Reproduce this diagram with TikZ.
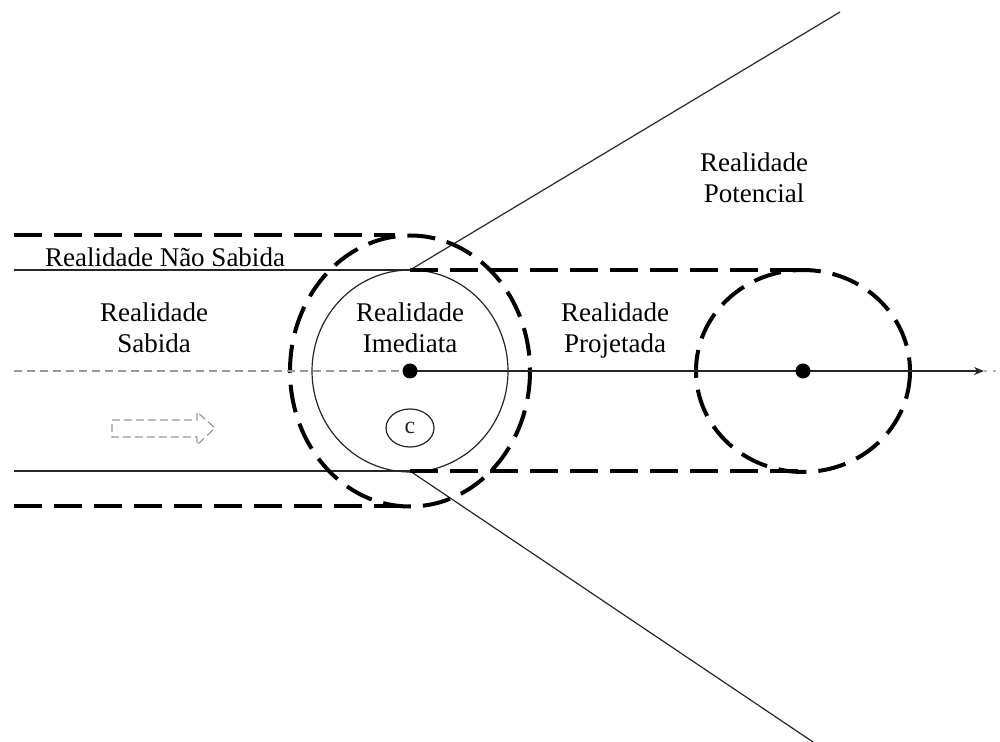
\documentclass[tikz,border=0pt]{standalone}
\usepackage{fontspec}
\setmainfont{Liberation Serif}
\usetikzlibrary{arrows.meta,shapes.geometric}
\tikzset{
  bigdash/.style={line width=2pt, dash pattern=on 14pt off 6pt},
  thinline/.style={line width=0.6pt, black!85},
  axisdash/.style={line width=0.6pt, gray!80, dash pattern=on 4pt off 2.5pt},
  lbl/.style={font=\fontsize{13.5}{15.5}\selectfont, inner sep=0pt, anchor=base},
  dotmark/.style={circle, fill=black, minimum size=7.5pt, inner sep=0pt},
}
\begin{document}
\begin{tikzpicture}[x=0.5pt,y=-0.5pt]
\useasboundingbox (0,0) rectangle (1000,742);
% key points
\coordinate (C1) at (410,371);
\coordinate (C2) at (803,371);
\coordinate (T1) at (410,270);
\coordinate (B1) at (410,471);
\coordinate (T2) at (803,270);
\coordinate (B2) at (803,471);
\coordinate (LT) at (14,270);
\coordinate (LB) at (14,471);
\coordinate (LTT) at (14,235);
\coordinate (LBB) at (14,506);
\coordinate (ETop) at (395,235);
\coordinate (EBot) at (410,506);
\coordinate (LA) at (14,371);
\coordinate (RA) at (984,371);
\coordinate (RD) at (1000,371);
\coordinate (RayT) at (840,12);
\coordinate (RayB) at (813,742);

% rays
\draw[thinline] (T1) -- (RayT);
\draw[thinline] (B1) -- (RayB);

% thin solid lines
\draw[thinline] (LT) -- (T1);
\draw[thinline] (LB) -- (B1);

% inner solid circle
\draw[thinline] (C1) ellipse [x radius=98, y radius=101];

% big dashed ellipse around present
\draw[bigdash] (C1) ellipse [x radius=120, y radius=135.5];
\draw[bigdash] (LTT) -- (ETop);
\draw[bigdash] (LBB) -- (EBot);

% projected corridor
\draw[bigdash] (T1) -- (T2);
\draw[bigdash] (B1) -- (B2);
\draw[bigdash] (C2) ellipse [x radius=107, y radius=101];

% axis
\draw[axisdash] (LA) -- (C1);
\draw[thinline, -{Stealth[length=5pt,width=4pt]}] (C1) -- (RA);
\draw[line width=0.8pt, gray!60, dash pattern=on 1.5pt off 3pt] (RA) -- (RD);

% dots
\node[dotmark] (D1) at (C1) {};
\node[dotmark] (D2) at (C2) {};

% small ellipse c
\node[draw, thinline, ellipse, minimum width=24pt, minimum height=19pt, inner sep=0pt,
      font=\fontsize{12}{14}\selectfont] (c) at (410,428) {c};

% hollow dashed arrow
\draw[line width=0.6pt, gray!80, dash pattern=on 4pt off 2pt]
  (112,420) -- (197,420) -- (197,412) -- (215,428) -- (197,445) -- (197,437) -- (112,437) -- cycle;

% labels
\node[lbl] (ns) at (165,267) {Realidade Não Sabida};
\node[lbl] (s1) at (154,322) {Realidade};
\node[lbl] (s2) at (154,353) {Sabida};
\node[lbl] (i1) at (410,322) {Realidade};
\node[lbl] (i2) at (410,353) {Imediata};
\node[lbl] (p1) at (615,322) {Realidade};
\node[lbl] (p2) at (615,353) {Projetada};
\node[lbl] (q1) at (754,172) {Realidade};
\node[lbl] (q2) at (754,203) {Potencial};
\end{tikzpicture}
\end{document}
